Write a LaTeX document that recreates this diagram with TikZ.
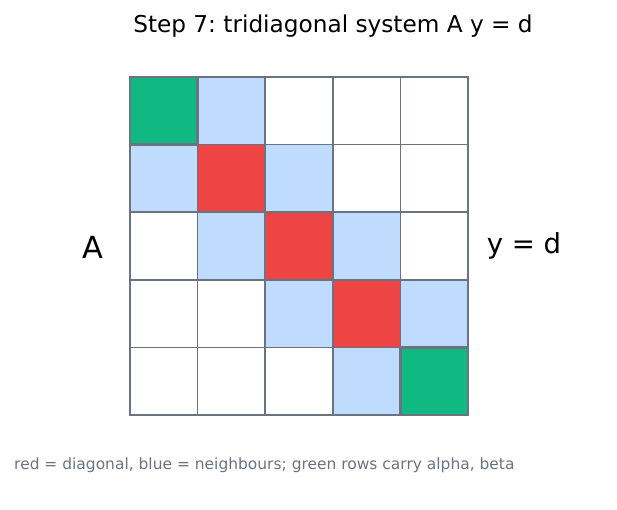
\documentclass[tikz,border=0pt]{standalone}
\usepackage{fontspec}
\setmainfont{DejaVu Sans}
\frenchspacing
\definecolor{diagred}{HTML}{EF4444}
\definecolor{nbblue}{HTML}{BFDBFE}
\definecolor{rowgreen}{HTML}{10B981}
\definecolor{edgegray}{HTML}{6B7280}
\tikzset{
  cell/.style = {draw = edgegray, line width = 1.3pt, minimum size = 2.028cm, inner sep = 0pt, outer sep = 0pt},
  greenedge/.style = {draw = edgegray, line width = 2pt}
}
\begin{document}
\begin{tikzpicture}[x = 0.03cm, y = -0.03cm]
\useasboundingbox (0,0) rectangle (617,510);
\node[font = \fontsize{19.8}{24}\selectfont] (title) at (333,26) {Step 7: tridiagonal system A y = d};
% the 5x5 matrix
\foreach \r in {1,...,5}
  \foreach \c in {1,...,5} {
    \pgfmathtruncatemacro{\gap}{abs(\r-\c)}
    \ifnum\gap=1 \def\fillc{nbblue}\else\def\fillc{white}\fi
    \ifnum\gap=0 \def\fillc{diagred}\ifnum\r=1 \def\fillc{rowgreen}\fi\ifnum\r=5 \def\fillc{rowgreen}\fi\fi
    \node[cell, fill = \fillc] (c\r\c) at ({130+67.6*(\c-0.5)},{77+67.6*(\r-0.5)}) {};
  }
\draw[greenedge] (c11.north west) rectangle (c11.south east);
\draw[greenedge] (c55.north west) rectangle (c55.south east);
\node[font = \fontsize{26}{30}\selectfont] (lhs) at (93,247) {A};
\node[font = \fontsize{23.5}{28}\selectfont] (rhs) at (524,246) {y = d};
\node[anchor = west, text = edgegray, font = \fontsize{13.2}{16}\selectfont, inner sep = 0pt] (note) at (14,465) {red = diagonal, blue = neighbours; green rows carry alpha, beta};
\end{tikzpicture}
\end{document}
